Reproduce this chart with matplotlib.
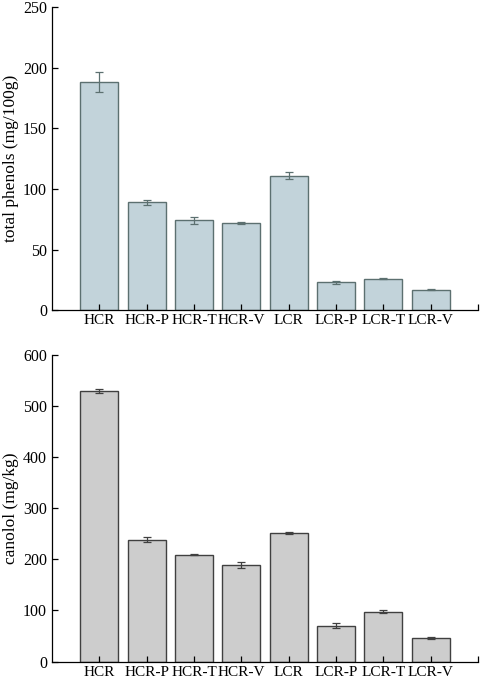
import matplotlib.pyplot as plt
import numpy as np

samples = ["HCR", "HCR-P", "HCR-T", "HCR-V", "LCR", "LCR-P", "LCR-T", "LCR-V"]
phenols = [188, 89, 74, 72, 111, 23, 26, 17]
phenols_err = [8, 2, 3, 1, 3, 1, 0.5, 0.5]
canolol = [529, 238, 209, 188, 251, 70, 97, 46]
canolol_err = [4, 5, 1, 6, 2, 5, 3, 2]

plt.rcParams["font.family"] = ["Liberation Serif", "DejaVu Serif"]

fig = plt.figure(figsize=(4.8, 6.82), dpi=100)
ax1 = fig.add_axes([0.108, 0.545, 0.888, 0.445])
ax2 = fig.add_axes([0.108, 0.030, 0.888, 0.450])

x = np.arange(len(samples))


def draw(ax, vals, errs, fill, edge, ymax, ystep, ylabel):
    ax.bar(x, vals, width=0.8, color=fill, edgecolor=edge, linewidth=1.0,
           yerr=errs, ecolor=edge, capsize=3, error_kw={"elinewidth": 0.9, "capthick": 0.9})
    ax.set_xlim(-1, len(samples))
    ax.set_ylim(0, ymax)
    ax.set_yticks(np.arange(0, ymax + 1, ystep))
    ax.set_xticks(list(x) + [len(samples)])
    ax.set_xticklabels(samples + [""])
    ax.tick_params(axis="both", direction="in", length=4, width=0.9, colors="black", labelsize=11.5)
    ax.tick_params(axis="x", pad=3, labelsize=11)
    for s in ("top", "right"):
        ax.spines[s].set_visible(False)
    for s in ("left", "bottom"):
        ax.spines[s].set_linewidth(0.9)
    ax.set_ylabel(ylabel, fontsize=12.5, labelpad=3)


draw(ax1, phenols, phenols_err, "#c2d3da", "#5c7070", 250, 50, "total phenols (mg/100g)")
draw(ax2, canolol, canolol_err, "#cdcdcd", "#404040", 600, 100, "canolol (mg/kg)")

fig.savefig("out.png", dpi=100)
